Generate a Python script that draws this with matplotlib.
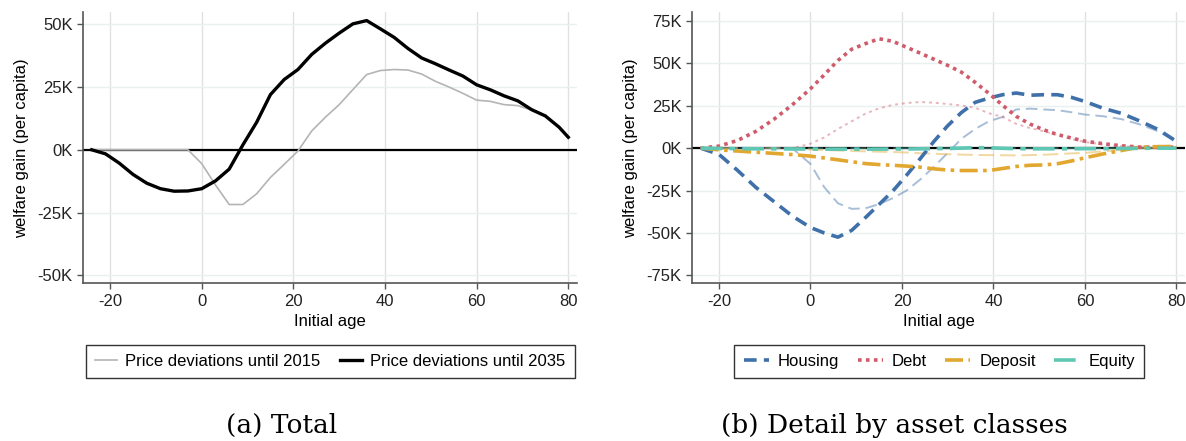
import matplotlib
matplotlib.use("Agg")
import matplotlib.pyplot as plt

plt.rcParams["font.family"] = ["Liberation Sans", "DejaVu Sans"]
plt.rcParams["font.size"] = 12
plt.rcParams["axes.unicode_minus"] = False

# ---- panel (a): total welfare gain ----
ages_a = [-24, -21, -18, -15, -12, -9, -6, -3, 0, 3, 6, 9, 12, 15, 18, 21, 24, 27,
          30, 33, 36, 39, 42, 45, 48, 51, 54, 57, 60, 63, 66, 69, 72, 75, 78, 80]
total_2015 = [0, 0, 0, 0, 0, 0, 0, 0, -5.5, -14, -21.8, -21.8, -17.5, -11, -5.8, -0.5,
              7.5, 13, 18, 24, 30, 31.6, 32, 31.8, 30.2, 27.3, 25, 22.5, 19.8, 19.3,
              18, 17.6, 15.8, 13.5, 9, 5]
total_2035 = [0, -1.6, -5.3, -9.8, -13.3, -15.5, -16.5, -16.4, -15.5, -12.4, -7.7, 2,
              11, 22, 28, 32, 38, 42.5, 46.5, 50.2, 51.5, 48.2, 44.8, 40.4, 36.6, 34.3,
              31.8, 29.4, 25.9, 23.9, 21.5, 19.5, 16, 13.5, 9, 5]

# ---- panel (b): detail by asset class ----
ages_b = [-24, -20, -16, -12, -8, -4, 0, 3, 6, 9, 12, 15, 18, 21, 24, 27, 30, 33, 36,
          39, 42, 45, 48, 51, 54, 57, 60, 64, 68, 72, 76, 80]
housing = [0, -3.7, -13, -23, -31.5, -40, -46.8, -50, -52.5, -48.5, -41, -33.2, -25.3,
           -16, -6.2, 4, 13.2, 21, 27, 29.5, 31.5, 32.5, 31.2, 31.5, 31.5, 30, 27.5,
           23.5, 20.5, 16, 11, 4]
housing_2015 = [0, 0, 0, 0, 0, 0, -9.3, -23, -32.5, -35.8, -35.5, -33, -29.5, -25,
                -18.5, -11, -2.8, 5.5, 11.3, 15.8, 18.4, 22.8, 23.3, 22.8, 22.4, 21.2,
                19.8, 18.8, 17.1, 14, 10, 4]
debt = [0, 1.2, 4.5, 9.8, 17, 25.5, 35, 43.2, 51.7, 58.3, 61.6, 64.5, 63, 59.5, 56,
        52.4, 48.8, 44.8, 38.8, 32.3, 25.3, 18.7, 14.2, 10.8, 8, 6, 4.1, 2.6, 1.4, 0.6,
        0.5, 0.6]
debt_2015 = [0, 0, 0, 0, 0, 0, 2.6, 6.3, 11.3, 15.8, 20.3, 23.5, 25.5, 26.6, 27.2, 26.8,
             26, 25.2, 23.8, 20.6, 18.4, 14.3, 11.8, 10, 7.8, 5.5, 3.6, 2.2, 1.2, 0.6,
             0.5, 0.6]
deposit = [0, -1, -1.7, -2.4, -3.1, -3.8, -4.7, -5.8, -6.9, -8, -9.1, -9.7, -10.1,
           -10.6, -11.2, -12.2, -12.9, -13.2, -13.2, -13.2, -12, -10.8, -10.1, -9.9,
           -9.2, -7.6, -5.7, -3.4, -1.4, 0.6, 0.9, 1.0]
deposit_2015 = [0, 0, 0, 0, 0, 0, -0.8, -1.1, -1.4, -1.7, -1.9, -2.1, -2.3, -2.6, -3.0,
                -3.3, -3.6, -3.8, -4.0, -4.1, -4.2, -4.3, -4.1, -3.9, -3.5, -3.1, -2.8,
                -1.9, -1.0, 0, 0.4, 0.6]
equity = [0, -0.2, -0.3, -0.4, -0.4, -0.5, -0.5, -0.6, -0.6, -0.6, -0.6, -0.6, -0.5,
          -0.5, -0.4, -0.3, -0.2, 0, 0.3, 0.2, -0.1, -0.3, -0.4, -0.4, -0.4, -0.4, -0.3,
          -0.3, -0.2, -0.1, 0, 0]
equity_2015 = [0, 0, 0, 0, 0, 0, -0.1, -0.1, -0.1, -0.1, -0.1, -0.1, -0.1, -0.1, -0.1,
               -0.1, -0.1, -0.1, -0.1, -0.1, -0.1, -0.1, -0.1, -0.1, -0.1, -0.1, -0.1,
               -0.1, -0.1, 0, 0, 0]

xticks = [-20, 0, 20, 40, 60, 80]
yticks_a = [-50, -25, 0, 25, 50]
yticks_b = [-75, -50, -25, 0, 25, 50, 75]

BLUE = "#3f70a9"
RED = "#cf5b6b"
ORANGE = "#e2a72e"
TEAL = "#5ec8b4"


def style_axes(ax, yticks, ylim):
    ax.set_xlim(-25.9, 81.9)
    ax.set_ylim(*ylim)
    ax.set_xticks(xticks)
    ax.set_yticks(yticks)
    ax.set_yticklabels([f"{v}K" for v in yticks])
    for v in xticks:
        ax.axvline(v, color="#e1e1e1", lw=1.0, zorder=0)
    for v in yticks:
        ax.axhline(v, color="#e9f0f0", lw=1.0, zorder=0)
    ax.axhline(0, color="black", lw=1.6, zorder=1)
    for s in ("top", "right"):
        ax.spines[s].set_visible(False)
    for s in ("left", "bottom"):
        ax.spines[s].set_color("#555555")
        ax.spines[s].set_linewidth(1.2)
    ax.tick_params(colors="#555555", labelcolor="#222222", length=4, width=1.0,
                   labelsize=12)
    ax.set_xlabel("Initial age", fontsize=12, labelpad=4)
    ax.set_ylabel("welfare gain (per capita)", fontsize=12, labelpad=6)


fig = plt.figure(figsize=(11.86, 4.41), dpi=100)
ax1 = fig.add_axes([0.070, 0.3576, 0.4165, 0.6145])
ax2 = fig.add_axes([0.5835, 0.3576, 0.4157, 0.6145])

# (a)
style_axes(ax1, yticks_a, (-53.2, 54.8))
l1, = ax1.plot(ages_a, total_2015, color="#b4b4b4", lw=1.2, zorder=2)
l2, = ax1.plot(ages_a, total_2035, color="black", lw=2.4, zorder=3)
fig.legend([l1, l2], ["Price deviations until 2015", "Price deviations until 2035"],
           loc="center", bbox_to_anchor=(0.2785, 0.18), ncol=2, frameon=True,
           fancybox=False, edgecolor="black", fontsize=12, handlelength=1.3,
           handletextpad=0.5, columnspacing=1.2, borderpad=0.55)

# (b)
style_axes(ax2, yticks_b, (-79.7, 80.1))
ax2.plot(ages_b, housing_2015, color=BLUE, alpha=0.45, lw=1.4, ls=(0, (6, 3)), zorder=2)
ax2.plot(ages_b, debt_2015, color=RED, alpha=0.45, lw=1.4, ls=(0, (1.5, 2)), zorder=2)
ax2.plot(ages_b, deposit_2015, color=ORANGE, alpha=0.45, lw=1.4, ls=(0, (8, 3)), zorder=2)
ax2.plot(ages_b, equity_2015, color=TEAL, alpha=0.45, lw=1.4, ls=(0, (8, 3)), zorder=2)
h1, = ax2.plot(ages_b, housing, color=BLUE, lw=2.6, ls=(0, (3.5, 2)), zorder=3)
h2, = ax2.plot(ages_b, debt, color=RED, lw=2.6, ls=(0, (1, 1.2)), zorder=3)
h3, = ax2.plot(ages_b, deposit, color=ORANGE, lw=2.6, ls=(0, (5, 1.5, 1, 1.5)), zorder=3)
h4, = ax2.plot(ages_b, equity, color=TEAL, lw=2.6, ls=(0, (6, 2, 1.5, 2)), zorder=4)
fig.legend([h1, h2, h3, h4], ["Housing", "Debt", "Deposit", "Equity"],
           loc="center", bbox_to_anchor=(0.792, 0.18), ncol=4, frameon=True,
           fancybox=False, edgecolor="black", fontsize=12, handlelength=1.5,
           handletextpad=0.55, columnspacing=1.1, borderpad=0.55)

fig.text(0.237, 0.035, "(a) Total", ha="center", va="center", fontsize=19,
         family=["DejaVu Serif"])
fig.text(0.7545, 0.035, "(b) Detail by asset classes", ha="center", va="center",
         fontsize=19, family=["DejaVu Serif"])

fig.savefig("out.png", dpi=100)
